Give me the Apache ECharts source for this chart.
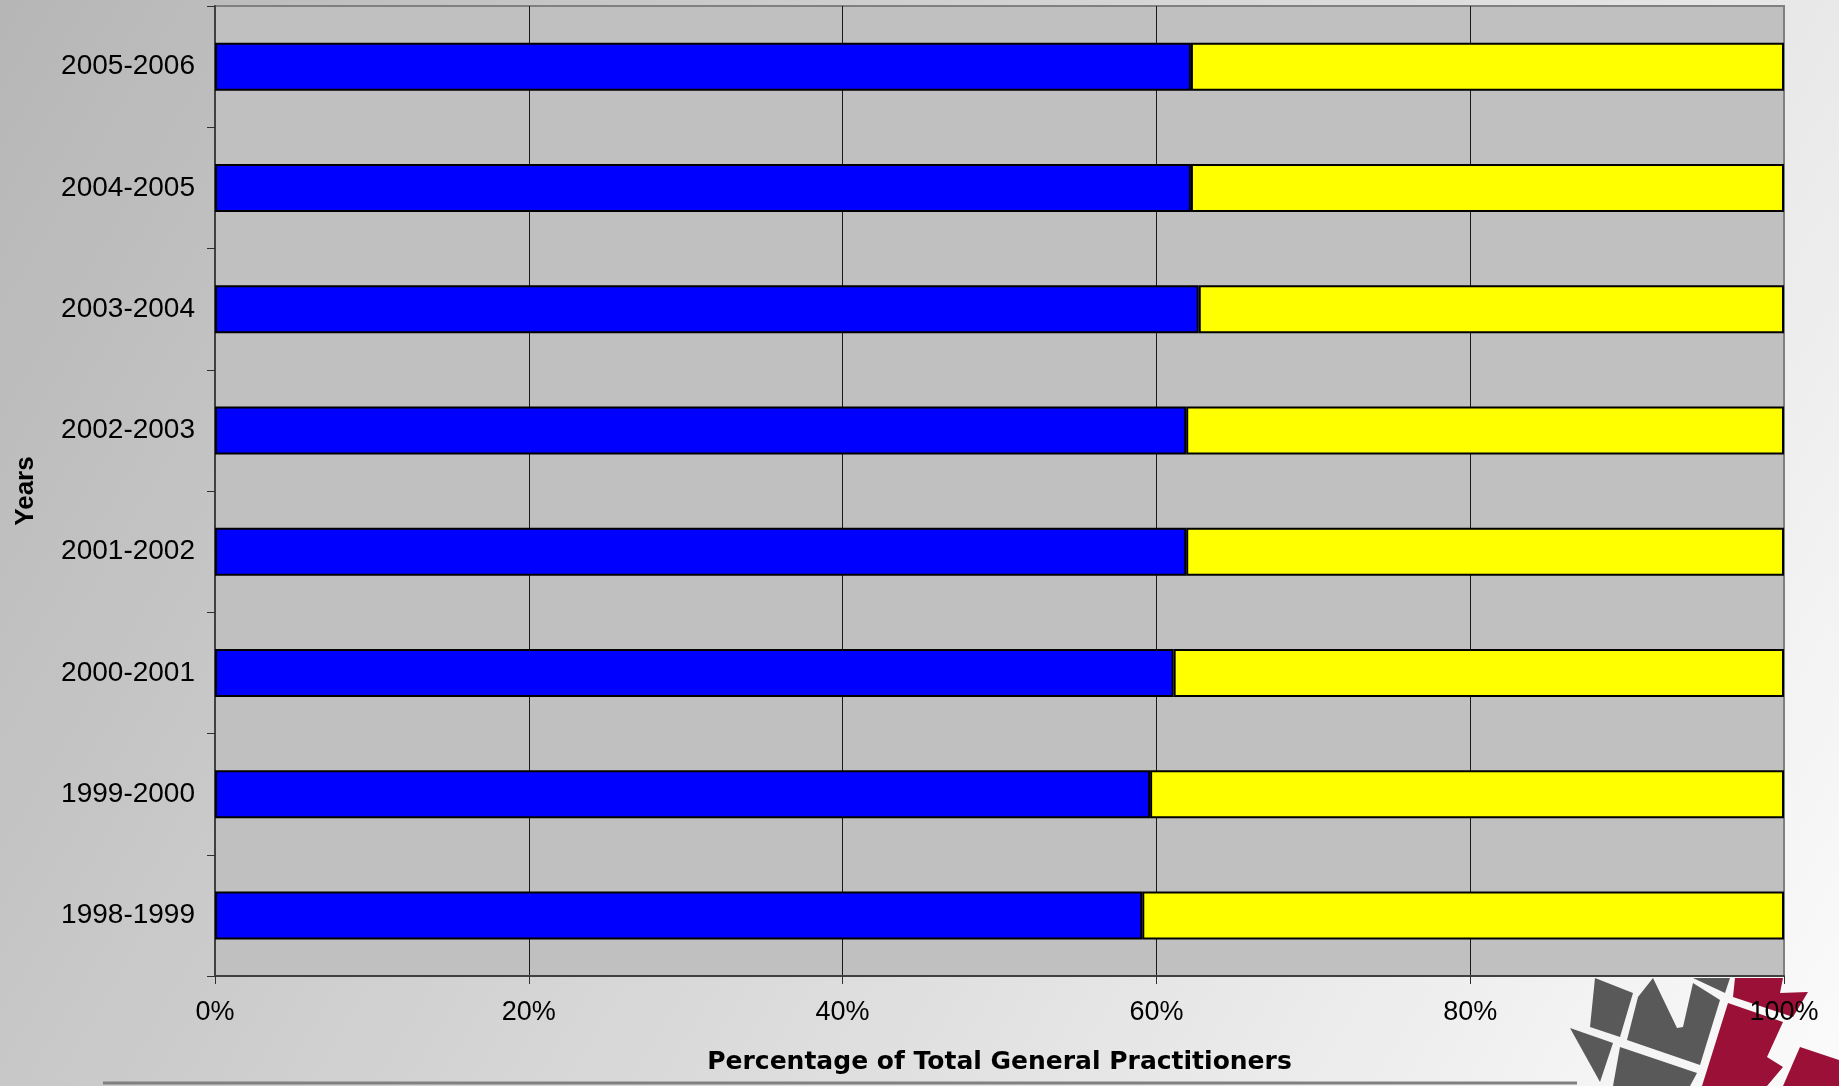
<!DOCTYPE html>
<html>
<head>
<meta charset="utf-8">
<style>
html,body{margin:0;padding:0;width:1839px;height:1086px;overflow:hidden;}
#chart{width:1839px;height:1086px;}
</style>
<script src="https://cdn.jsdelivr.net/npm/echarts@6/dist/echarts.min.js"></script>
</head>
<body>
<div id="chart"></div>
<script>
var categories = ['1998-1999','1999-2000','2000-2001','2001-2002','2002-2003','2003-2004','2004-2005','2005-2006'];
var blueValues = [59.1, 59.6, 61.1, 61.9, 61.9, 62.7, 62.2, 62.2];
var yellowValues = [40.9, 40.4, 38.9, 38.1, 38.1, 37.3, 37.8, 37.8];
var xTicks = [0, 20, 40, 60, 80, 100];

var chart = echarts.init(document.getElementById('chart'));
var F = 'Arial, "Liberation Sans", sans-serif';

var logoGrey = '#595959', logoRed = '#9b1036';
function poly(pts, color) {
  return { type: 'polygon', shape: { points: pts }, style: { fill: color }, z: -1, silent: true };
}

chart.setOption({
  animation: false,
  backgroundColor: {
    type: 'linear', x: 0, y: 0, x2: 1, y2: 1,
    colorStops: [
      { offset: 0, color: '#b6b6b6' },
      { offset: 0.5, color: '#d8d8d8' },
      { offset: 1, color: '#fbfbfb' }
    ]
  },
  grid: {
    left: 215, top: 6, width: 1569, height: 970,
    containLabel: false, outerBoundsMode: 'none',
    show: true, backgroundColor: '#c0c0c0',
    borderColor: '#808080', borderWidth: 2
  },
  xAxis: {
    type: 'value', min: 0, max: 100, interval: 20,
    name: 'Percentage of Total General Practitioners',
    nameLocation: 'middle', nameGap: 74,
    nameTextStyle: { fontFamily: 'DejaVu Sans', fontWeight: 'bold', fontSize: 25, color: '#000' },
    axisLine: { show: true, lineStyle: { color: '#404040', width: 2 } },
    axisTick: { show: true, length: 8, lineStyle: { color: '#303030', width: 1 } },
    axisLabel: {
      margin: 23, fontFamily: F, fontSize: 27, color: '#000',
      formatter: function (v) { return v + '%'; }
    },
    splitLine: {
      show: true,
      lineStyle: { color: ['#1a1a1a', '#1a1a1a', '#1a1a1a', '#1a1a1a', '#1a1a1a', '#808080'], width: 1 }
    }
  },
  yAxis: {
    type: 'category', data: categories,
    name: 'Years', nameLocation: 'middle', nameGap: 176, nameRotate: 90,
    nameTextStyle: { fontFamily: F, fontWeight: 'bold', fontSize: 26, color: '#000' },
    axisLine: { show: true, lineStyle: { color: '#404040', width: 2 } },
    axisTick: { show: true, length: 8, alignWithLabel: false, lineStyle: { color: '#303030', width: 1 } },
    axisLabel: { margin: 20, fontFamily: F, fontSize: 28, color: '#000' },
    splitLine: { show: false }
  },
  series: [
    {
      name: 'Blue share', type: 'bar', stack: 'total', data: blueValues,
      barWidth: 48,
      itemStyle: { color: '#0000ff', borderColor: '#000', borderWidth: 2 }
    },
    {
      name: 'Yellow share', type: 'bar', stack: 'total', data: yellowValues,
      barWidth: 48,
      itemStyle: { color: '#ffff00', borderColor: '#000', borderWidth: 2 }
    }
  ],
  graphic: [
    { type: 'line', shape: { x1: 103, y1: 1083, x2: 1577, y2: 1083 }, style: { stroke: '#808080', lineWidth: 3 }, z: -1, silent: true },
    poly([[1595,978],[1633,993],[1620,1037],[1590,1027]], logoGrey),
    poly([[1570,1028],[1613,1043],[1600,1082]], logoGrey),
    poly([[1638,997],[1653,978],[1677,1028],[1683,1027],[1693,983],[1720,1000],[1700,1065],[1627,1040]], logoGrey),
    poly([[1693,978],[1730,978],[1725,993]], logoGrey),
    poly([[1620,1047],[1697,1073],[1690,1086],[1613,1086]], logoGrey),
    poly([[1735,978],[1783,978],[1780,993],[1808,992],[1793,1017],[1733,997]], logoRed),
    poly([[1728,1003],[1783,1022],[1767,1057],[1783,1067],[1767,1086],[1702,1086]], logoRed),
    poly([[1800,1047],[1839,1060],[1839,1086],[1783,1086]], logoRed)
  ]
});
</script>
</body>
</html>
